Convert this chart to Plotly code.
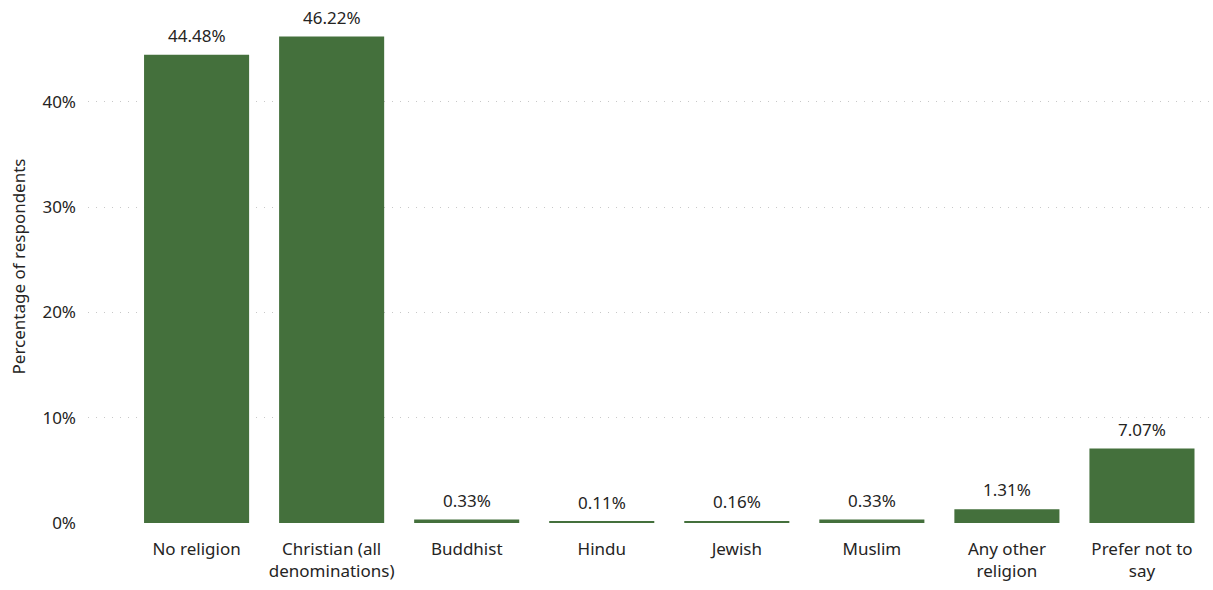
import plotly.graph_objects as go

# Religion of survey respondents, share of all respondents (%)
categories = [
    "No religion",
    "Christian (all<br>denominations)",
    "Buddhist",
    "Hindu",
    "Jewish",
    "Muslim",
    "Any other<br>religion",
    "Prefer not to<br>say",
]
percentages = [44.48, 46.22, 0.33, 0.11, 0.16, 0.33, 1.31, 7.07]
tick_values = [0, 10, 20, 30, 40]
tick_labels = ["0%", "10%", "20%", "30%", "40%"]

FONT = "Segoe UI, Noto Sans, Open Sans, sans-serif"
BAR_COLOR = "#44703c"
TEXT_COLOR = "#252423"

xs = list(range(len(categories)))

fig = go.Figure(
    go.Bar(
        x=xs,
        y=percentages,
        width=0.778,
        marker=dict(color=BAR_COLOR, line=dict(width=0)),
        hoverinfo="skip",
    )
)

# value labels sitting above each bar
for x, v in zip(xs, percentages):
    fig.add_annotation(
        x=x, y=v, text=f"{v:.2f}%", showarrow=False,
        yanchor="bottom", yshift=6,
        font=dict(family=FONT, size=17, color=TEXT_COLOR),
    )

fig.update_layout(
    width=1213,
    height=590,
    margin=dict(l=88, r=0, t=10, b=67),
    paper_bgcolor="white",
    plot_bgcolor="white",
    showlegend=False,
    font=dict(family=FONT, size=17, color=TEXT_COLOR),
    xaxis=dict(
        tickmode="array",
        tickvals=xs,
        ticktext=categories,
        range=[-0.804, 7.526],
        showgrid=False,
        zeroline=False,
        showline=False,
        ticks="",
        ticklabelstandoff=14,
        tickfont=dict(family=FONT, size=17, color=TEXT_COLOR),
    ),
    yaxis=dict(
        range=[0, 48.74],
        tickmode="array",
        tickvals=tick_values,
        ticktext=tick_labels,
        showgrid=True,
        gridcolor="#c8c8c8",
        griddash="1px,7px",
        gridwidth=1,
        zeroline=False,
        showline=False,
        ticks="",
        ticklabelstandoff=11,
        tickfont=dict(family=FONT, size=17, color=TEXT_COLOR),
        title=dict(
            text="Percentage of respondents",
            font=dict(family=FONT, size=17, color=TEXT_COLOR),
            standoff=12,
        ),
    ),
)

fig.write_html("out.html")
